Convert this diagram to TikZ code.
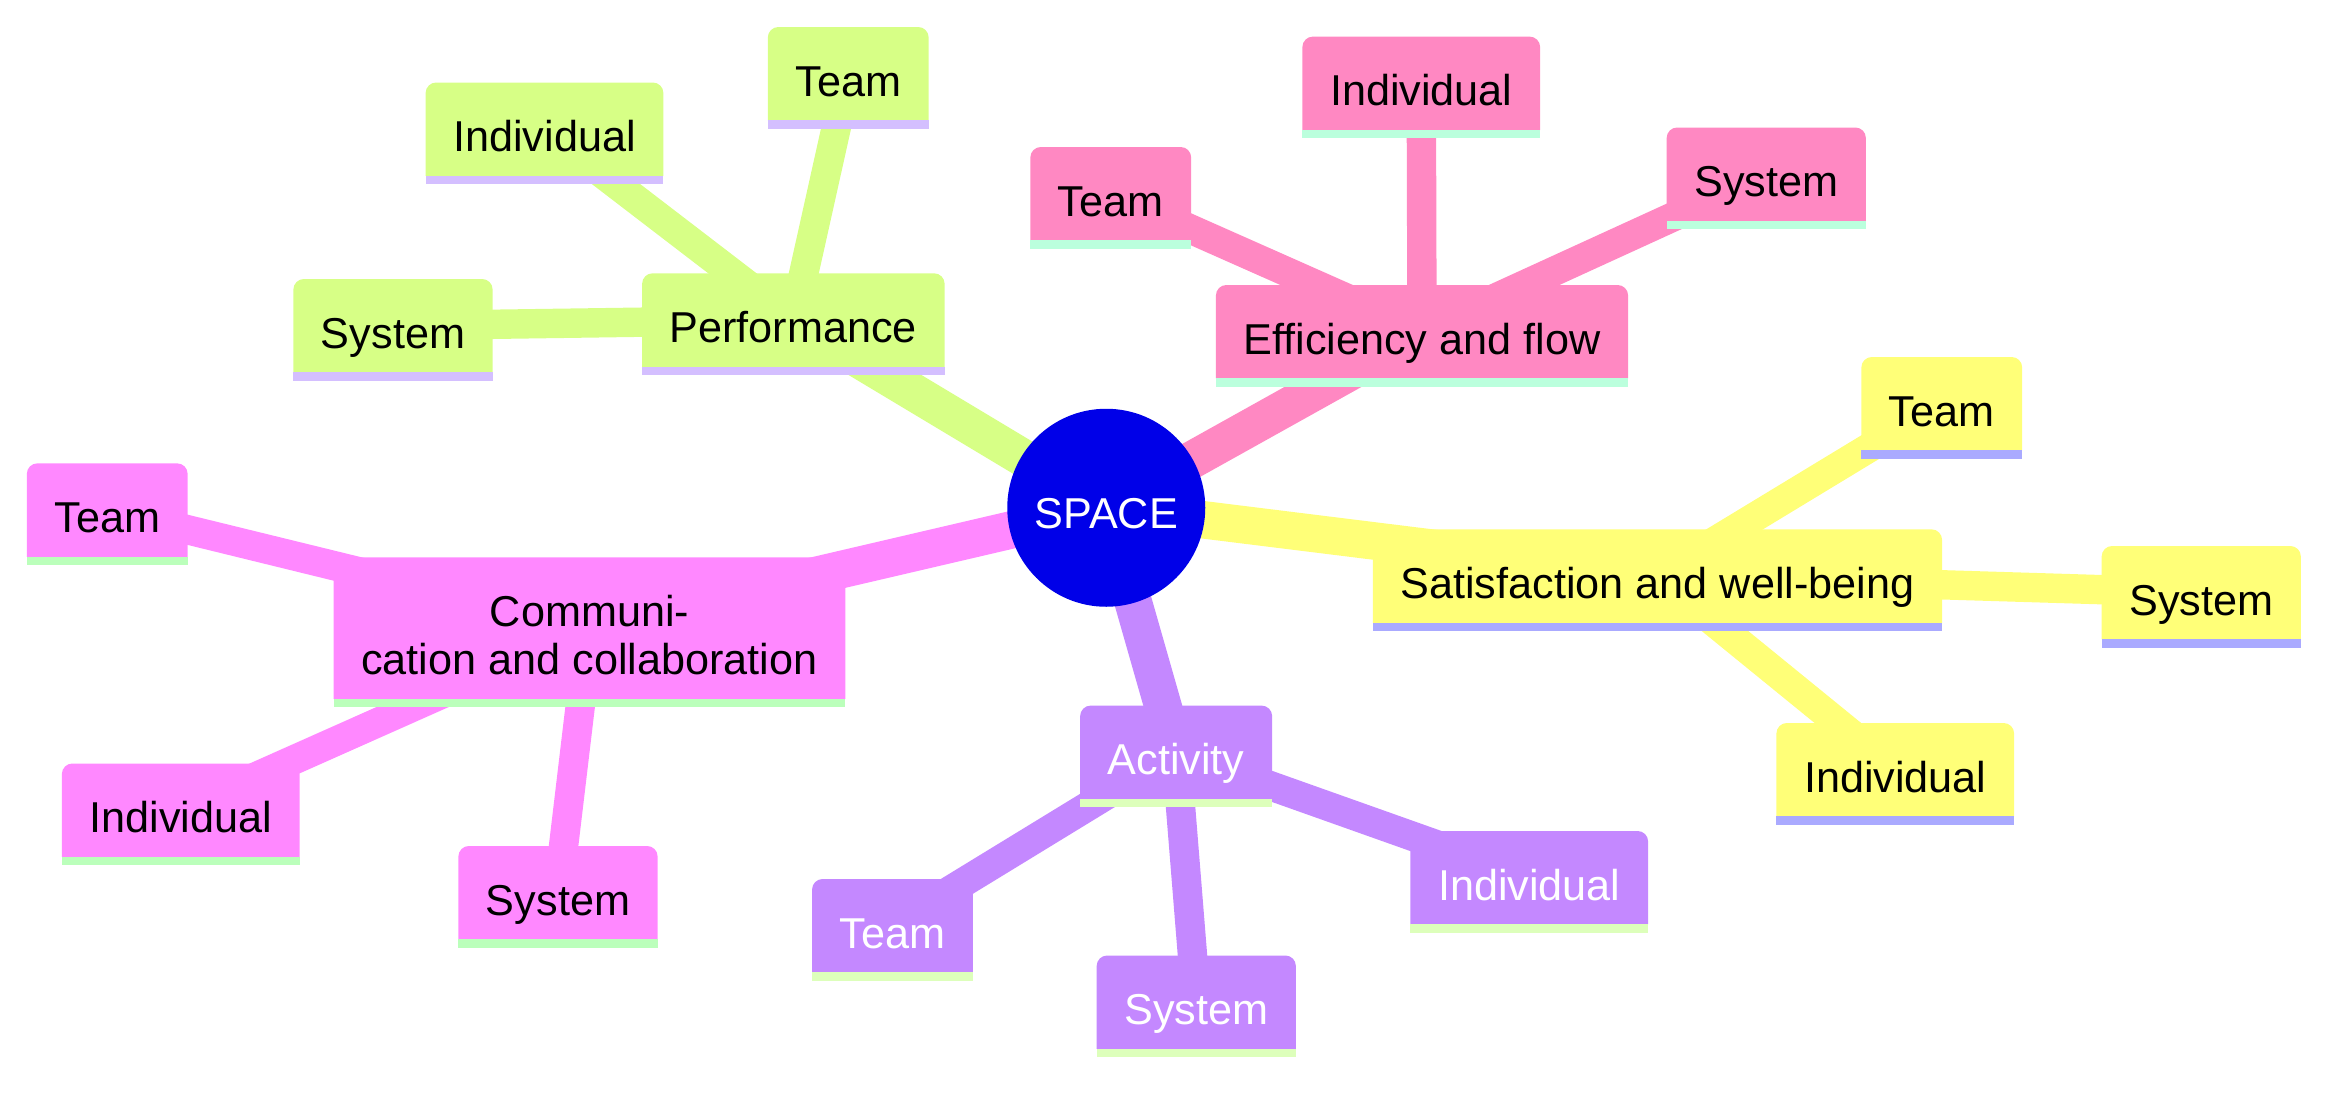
\documentclass[tikz,border=0pt]{standalone}
\usepackage{fontspec}
\setmainfont{Liberation Sans}
\pgfdeclarelayer{edges}
\pgfdeclarelayer{bodies}
\pgfsetlayers{edges,bodies,main}

% branch colours: body fill and bottom stripe
\definecolor{rootblue}{RGB}{0,0,232}
\definecolor{perfFill}{RGB}{215,255,134}
\definecolor{perfLine}{RGB}{212,191,255}
\definecolor{effFill}{RGB}{255,136,194}
\definecolor{effLine}{RGB}{187,255,221}
\definecolor{satFill}{RGB}{255,255,120}
\definecolor{satLine}{RGB}{170,170,255}
\definecolor{actFill}{RGB}{196,136,255}
\definecolor{actLine}{RGB}{221,255,187}
\definecolor{comFill}{RGB}{255,136,255}
\definecolor{comLine}{RGB}{187,255,187}

\tikzset{
  mmfont/.style={font=\fontsize{28.8pt}{32.2pt}\selectfont},
  mmtext/.style={rectangle, inner xsep=18.4pt, inner ysep=0pt, outer sep=0pt,
    text height=46pt, text depth=16.3pt, anchor=north, mmfont},
  rootnode/.style={circle, fill=rootblue, minimum size=132pt, inner sep=0pt,
    outer sep=0pt, text=white, text height=28pt, text depth=0pt, mmfont},
  rootedge/.style={line width=25pt},
  leafedge/.style={line width=19.6pt},
}

% body with rounded top corners and a coloured stripe underneath
\newcommand\mmbody[3]{%
  \fill[#2] (#1.south west) -- ([yshift=-7pt]#1.north west)
    arc[start angle=180, end angle=90, radius=7pt]
    -- ([xshift=-7pt]#1.north east)
    arc[start angle=90, end angle=0, radius=7pt]
    -- (#1.south east) -- cycle;
  \fill[#3] (#1.south west) rectangle ([yshift=-5.5pt]#1.south east);
}

\begin{document}
\begin{tikzpicture}[x=1pt, y=1pt]
\useasboundingbox (0,0) rectangle (1568,-728);

\node[rootnode] (root) at (737.5,-338.5) {SPACE};

% Performance
\node[mmtext] (perf)    at (528.9,-182.2) {Performance};
\node[mmtext] (perfInd) at (363,-55)      {Individual};
\node[mmtext] (perfTeam) at (565.5,-18)   {Team};
\node[mmtext] (perfSys) at (262,-186)     {System};

% Efficiency and flow
\node[mmtext] (eff)     at (948,-190)     {Efficiency and flow};
\node[mmtext] (effInd)  at (947.5,-24.4)  {Individual};
\node[mmtext] (effTeam) at (740.5,-98)    {Team};
\node[mmtext] (effSys)  at (1177.5,-85)   {System};

% Satisfaction and well-being
\node[mmtext] (sat)     at (1105,-352.9)  {Satisfaction and well-being};
\node[mmtext] (satTeam) at (1294.5,-238)  {Team};
\node[mmtext] (satSys)  at (1467.5,-364)  {System};
\node[mmtext] (satInd)  at (1263.5,-482)  {Individual};

% Activity
\node[mmtext, text=white] (act)     at (784.1,-470.4) {Activity};
\node[mmtext, text=white] (actTeam) at (595,-586)     {Team};
\node[mmtext, text=white] (actSys)  at (797.5,-637)   {System};
\node[mmtext, text=white] (actInd)  at (1019.5,-554)  {Individual};

% Communication and collaboration (two lines: baseline of the box is the last line)
\node[mmtext, align=center, text height=78.2pt, text depth=16.3pt] (com)
  at (393,-371.6) {Communi-\\cation and collaboration};
\node[mmtext] (comTeam) at (71.5,-308.9) {Team};
\node[mmtext] (comInd)  at (120.5,-509)  {Individual};
\node[mmtext] (comSys)  at (372,-564)    {System};

\begin{pgfonlayer}{bodies}
  \mmbody{perf}{perfFill}{perfLine}
  \mmbody{perfInd}{perfFill}{perfLine}
  \mmbody{perfTeam}{perfFill}{perfLine}
  \mmbody{perfSys}{perfFill}{perfLine}
  \mmbody{eff}{effFill}{effLine}
  \mmbody{effInd}{effFill}{effLine}
  \mmbody{effTeam}{effFill}{effLine}
  \mmbody{effSys}{effFill}{effLine}
  \mmbody{sat}{satFill}{satLine}
  \mmbody{satTeam}{satFill}{satLine}
  \mmbody{satSys}{satFill}{satLine}
  \mmbody{satInd}{satFill}{satLine}
  \mmbody{act}{actFill}{actLine}
  \mmbody{actTeam}{actFill}{actLine}
  \mmbody{actSys}{actFill}{actLine}
  \mmbody{actInd}{actFill}{actLine}
  \mmbody{com}{comFill}{comLine}
  \mmbody{comTeam}{comFill}{comLine}
  \mmbody{comInd}{comFill}{comLine}
  \mmbody{comSys}{comFill}{comLine}
\end{pgfonlayer}

\begin{pgfonlayer}{edges}
  \draw[rootedge, perfFill] (root.center) -- (perf.center);
  \draw[leafedge, perfFill] (perf.center) -- (perfInd.center);
  \draw[leafedge, perfFill] (perf.center) -- (perfTeam.center);
  \draw[leafedge, perfFill] (perf.center) -- (perfSys.center);
  \draw[rootedge, effFill] (root.center) -- (eff.center);
  \draw[leafedge, effFill] (eff.center) -- (effInd.center);
  \draw[leafedge, effFill] (eff.center) -- (effTeam.center);
  \draw[leafedge, effFill] (eff.center) -- (effSys.center);
  \draw[rootedge, satFill] (root.center) -- (sat.center);
  \draw[leafedge, satFill] (sat.center) -- (satTeam.center);
  \draw[leafedge, satFill] (sat.center) -- (satSys.center);
  \draw[leafedge, satFill] (sat.center) -- (satInd.center);
  \draw[rootedge, actFill] (root.center) -- (act.center);
  \draw[leafedge, actFill] (act.center) -- (actTeam.center);
  \draw[leafedge, actFill] (act.center) -- (actSys.center);
  \draw[leafedge, actFill] (act.center) -- (actInd.center);
  \draw[rootedge, comFill] (root.center) -- (com.center);
  \draw[leafedge, comFill] (com.center) -- (comTeam.center);
  \draw[leafedge, comFill] (com.center) -- (comInd.center);
  \draw[leafedge, comFill] (com.center) -- (comSys.center);
\end{pgfonlayer}
\end{tikzpicture}
\end{document}
